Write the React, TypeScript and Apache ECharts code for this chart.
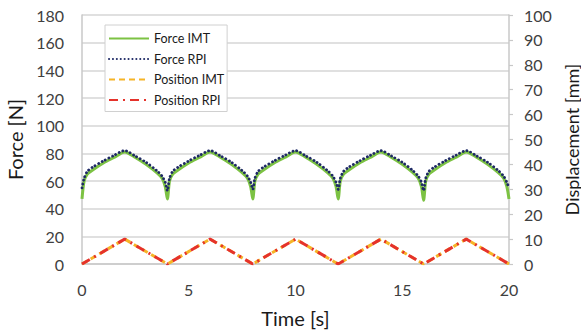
import React, { useEffect, useRef } from "react";
import * as echarts from "echarts";

// Sample times [s] for the force traces (4 s loading cycles)
const forceTime = [
  0, 0.1, 0.25, 0.5, 1, 1.5, 2, 2.5, 3, 3.5, 3.75, 3.9,
  4, 4.1, 4.25, 4.5, 5, 5.5, 6, 6.5, 7, 7.5, 7.75, 7.9,
  8, 8.1, 8.25, 8.5, 9, 9.5, 10, 10.5, 11, 11.5, 11.75, 11.9,
  12, 12.1, 12.25, 12.5, 13, 13.5, 14, 14.5, 15, 15.5, 15.75, 15.9,
  16, 16.1, 16.25, 16.5, 17, 17.5, 18, 18.5, 19, 19.5, 19.75, 19.9,
  20,
];

// Force [N]
const forceIMT = [
  47, 60, 65, 68, 73, 77, 81, 77, 72, 66, 62, 56,
  47, 60, 65, 68, 73, 77, 81, 77, 72, 66, 62, 56,
  47, 60, 65, 68, 73, 77, 81, 77, 72, 66, 62, 56,
  47, 60, 65, 68, 73, 77, 81, 77, 72, 66, 62, 56,
  46, 60, 65, 68, 73, 77, 81, 77, 72, 66, 62, 56,
  47,
];
const forceRPI = [
  55, 62, 67, 70, 74.5, 78.5, 82, 78, 73.5, 67.5, 63.5, 59,
  53, 62, 67, 70, 74.5, 78.5, 82, 78, 73.5, 67.5, 63.5, 59,
  54, 62, 67, 70, 74.5, 78.5, 82, 78, 73.5, 67.5, 63.5, 59,
  54, 62, 67, 70, 74.5, 78.5, 82, 78, 73.5, 67.5, 63.5, 59,
  53, 62, 67, 70, 74.5, 78.5, 82, 78, 73.5, 67.5, 63.5, 59,
  55,
];

// Displacement [mm]
const positionTime = [0, 2, 4, 6, 8, 10, 12, 14, 16, 18, 20];
const positionIMT = [0, 10, 0, 10, 0, 10, 0, 10, 0, 10, 0];
const positionRPI = [0, 10, 0, 10, 0, 10, 0, 10, 0, 10, 0];

const legendNames = ["Force IMT", "Force RPI", "Position IMT", "Position RPI"];

const pairs = (xs: number[], ys: number[]) => xs.map((x, i) => [x, ys[i]]);

const FONT = "Lato, 'Open Sans', sans-serif";

export default function App() {
  const ref = useRef<HTMLDivElement>(null);

  useEffect(() => {
    if (!ref.current) return;
    const chart = echarts.init(ref.current, undefined, { renderer: "svg" });
    const tickText = { color: "#404040", fontSize: 16, fontFamily: FONT };
    const nameText = { color: "#1a1a1a", fontSize: 20, fontFamily: FONT };

    chart.setOption({
      animation: false,
      backgroundColor: "#ffffff",
      grid: {
        left: 82,
        right: 72,
        top: 15,
        bottom: 72,
        containLabel: false,
        outerBoundsMode: "none",
      },
      legend: {
        orient: "vertical",
        left: 105,
        top: 25,
        itemWidth: 40,
        itemHeight: 14,
        itemGap: 7.5,
        padding: [7, 3, 5, 3],
        borderColor: "#d0d0d0",
        borderWidth: 1,
        backgroundColor: "#ffffff",
        itemStyle: { opacity: 0 },
        textStyle: { color: "#1a1a1a", fontSize: 12.5, fontFamily: FONT },
        data: legendNames,
      },
      xAxis: {
        type: "value",
        min: 0,
        max: 20,
        interval: 5,
        name: "Time [s]",
        nameLocation: "middle",
        nameGap: 44,
        nameTextStyle: nameText,
        axisLine: { show: true, lineStyle: { color: "#c8c8c8", width: 1.5 } },
        axisTick: { show: false },
        axisLabel: { ...tickText, margin: 17 },
        splitLine: { show: false },
      },
      yAxis: [
        {
          type: "value",
          min: 0,
          max: 180,
          interval: 20,
          name: "Force [N]",
          nameLocation: "middle",
          nameGap: 53,
          nameRotate: 90,
          nameTextStyle: nameText,
          axisLine: { show: true, lineStyle: { color: "#c8c8c8", width: 1.5 } },
          axisTick: { show: false },
          axisLabel: { ...tickText, margin: 18 },
          splitLine: { show: true, lineStyle: { color: "#d6d6d6", width: 1.5 } },
        },
        {
          type: "value",
          min: 0,
          max: 100,
          interval: 10,
          position: "right",
          name: "Displacement [mm]",
          nameLocation: "middle",
          nameGap: 43,
          nameRotate: 90,
          nameTextStyle: { ...nameText, fontSize: 18, lineHeight: 18 },
          axisLine: { show: true, lineStyle: { color: "#c8c8c8", width: 1.5 } },
          axisTick: { show: true, length: 4, lineStyle: { color: "#c8c8c8", width: 1.2 } },
          axisLabel: { ...tickText, margin: 15 },
          splitLine: { show: false },
        },
      ],
      series: [
        {
          name: "Force IMT",
          type: "line",
          yAxisIndex: 0,
          data: pairs(forceTime, forceIMT),
          symbol: "none",
          smooth: 0.25,
          itemStyle: { color: "#7cc243" },
          lineStyle: { color: "#7cc243", width: 3 },
          z: 2,
        },
        {
          name: "Force RPI",
          type: "line",
          yAxisIndex: 0,
          data: pairs(forceTime, forceRPI),
          symbol: "none",
          smooth: 0.25,
          itemStyle: { color: "#1f2a66" },
          lineStyle: { color: "#1f2a66", width: 2.8, type: [0.1, 3.8], cap: "round" },
          z: 3,
        },
        {
          name: "Position IMT",
          type: "line",
          yAxisIndex: 1,
          data: pairs(positionTime, positionIMT),
          symbol: "none",
          itemStyle: { color: "#f6b426" },
          lineStyle: { color: "#f6b426", width: 3, type: [6, 4] },
          z: 2,
        },
        {
          name: "Position RPI",
          type: "line",
          yAxisIndex: 1,
          data: pairs(positionTime, positionRPI),
          symbol: "none",
          itemStyle: { color: "#e5322b" },
          lineStyle: { color: "#e5322b", width: 3, type: [9, 5, 2, 5] },
          z: 3,
        },
      ],
    });

    return () => chart.dispose();
  }, []);

  return (
    <div
      ref={ref}
      style={{ position: "absolute", left: 0, top: 0, width: 581, height: 336 }}
    />
  );
}
